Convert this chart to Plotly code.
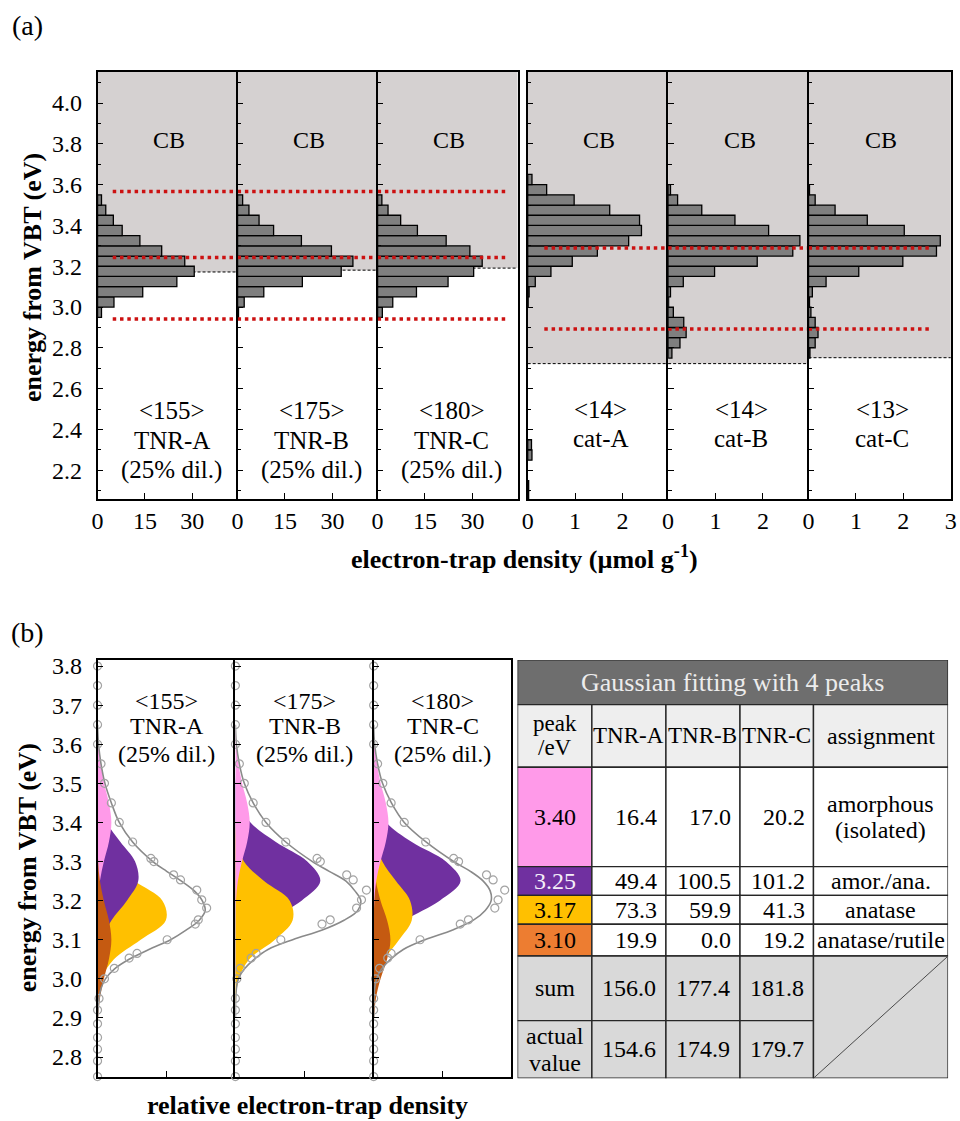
import plotly.graph_objects as go

FONT = "Liberation Serif, Times New Roman, serif"
W, H = 960, 1121

# ---------------- (a) electron-trap density distributions ----------------
# bin centres in eV (bins are 0.05 eV wide); densities in umol/g
tnr_bins = [2.975, 3.025, 3.075, 3.125, 3.175, 3.225, 3.275, 3.325, 3.375, 3.425, 3.475, 3.525]
tnr_a = [1.25, 5.2, 14.3, 25.1, 30.6, 27.6, 20.3, 13.4, 7.8, 5.0, 2.6, 1.25]
tnr_b = [0.3, 2.1, 8.3, 20.5, 32.8, 36.5, 29.7, 20.2, 11.4, 6.8, 3.6, 1.6]
tnr_c = [1.5, 4.8, 12.3, 22.3, 30.4, 33.1, 29.2, 21.7, 12.6, 7.3, 3.3, 1.35]

cat_bins = [2.775, 2.825, 2.875, 2.925, 2.975, 3.025, 3.075, 3.125, 3.175,
            3.225, 3.275, 3.325, 3.375, 3.425, 3.475, 3.525, 3.575, 3.625]
cat_a = [0, 0, 0, 0, 0, 0.01, 0.03, 0.16, 0.49, 0.94, 1.47, 2.13, 2.40, 2.36, 1.73, 0.98, 0.40, 0.09]
cat_b = [0.08, 0.25, 0.38, 0.33, 0.11, 0.01, 0.05, 0.32, 0.98, 1.88, 2.63, 2.78, 2.12, 1.41, 0.71, 0.20, 0.05, 0]
cat_c = [0.03, 0.14, 0.20, 0.14, 0.05, 0.02, 0.08, 0.37, 1.06, 1.99, 2.70, 2.78, 2.02, 1.24, 0.56, 0.14, 0.02, 0]
cat_a_low_bins = [2.075, 2.125, 2.275, 2.325]
cat_a_low = [0.02, 0.02, 0.09, 0.08]

sample_names = ["TNR-A", "TNR-B", "TNR-C", "cat-A", "cat-B", "cat-C"]
sample_totals = ["155", "175", "180", "14", "14", "13"]
dilution = "(25% dil.)"
cb_edges = [3.172, 3.181, 3.191, 2.723, 2.723, 2.752]   # lower limit of conduction-band shading (eV)
tnr_red_levels = [3.566, 3.243, 2.942]
cat_red_levels = [3.29, 2.893]

# ---------------- (b) Gaussian deconvolution ----------------
comp_E = [2.85, 2.90, 2.95, 3.00, 3.05, 3.10, 3.15, 3.20, 3.25, 3.30, 3.35, 3.40, 3.45, 3.50, 3.55, 3.60, 3.65]
fitA_340 = [0, 0, 0, 0, 0, 0, 0.1, 0.6, 2.4, 6.4, 11.5, 14, 11.5, 6.6, 3.0, 0.9, 0.2]
fitA_325 = [0, 0, 0, 0.2, 1.0, 4.5, 14.2, 29.7, 41.2, 38.0, 23.2, 9.4, 2.5, 0.5, 0.1, 0, 0]
fitA_317 = [0, 0, 0.5, 3.8, 16.6, 43.7, 69.2, 65.7, 37.5, 12.8, 2.6, 0.3, 0, 0, 0, 0, 0]
fitA_310 = [0.1, 0.6, 2.4, 6.4, 11.5, 14, 11.5, 6.4, 2.4, 0.6, 0.1, 0, 0, 0, 0, 0, 0]
fitB_340 = [0, 0, 0, 0, 0, 0, 0.1, 0.6, 2.5, 6.6, 11.9, 14.5, 11.9, 6.8, 3.1, 0.9, 0.2]
fitB_325 = [0, 0, 0, 0.4, 2.7, 12, 34.7, 67, 86, 72.8, 41, 15.3, 3.8, 0.6, 0.1, 0, 0]
fitB_317 = [0, 0, 0.5, 3.5, 14, 40, 58, 55, 29, 8.6, 1.5, 0.1, 0, 0, 0, 0, 0]
fitB_310 = [0, 0, 0, 0, 0, 0, 0, 0, 0, 0, 0, 0, 0, 0, 0, 0, 0]
fitC_340 = [0, 0, 0, 0, 0, 0, 0.1, 0.7, 2.6, 6.9, 12.3, 15, 12.3, 7.1, 3.2, 0.9, 0.2]
fitC_325 = [0, 0, 0, 0.2, 1.9, 9.9, 32.3, 66.9, 88, 73.2, 38.7, 13, 2.8, 0.4, 0, 0, 0]
fitC_317 = [0, 0, 0.5, 3.0, 11, 25.8, 38.6, 36.9, 22.6, 8.8, 2.2, 0.4, 0, 0, 0, 0, 0]
fitC_310 = [0, 0.5, 2.3, 7.0, 13.6, 17, 13.6, 7.0, 2.3, 0.5, 0, 0, 0, 0, 0, 0, 0]

sum_E = [3.65, 3.60, 3.55, 3.50, 3.45, 3.40, 3.35, 3.30, 3.275, 3.25, 3.225, 3.20,
         3.175, 3.15, 3.125, 3.10, 3.075, 3.05, 3.025, 3.00, 2.975, 2.95, 2.90]
sumA = [0, 1, 3.5, 7.5, 14, 22, 35.5, 56, 70, 85, 98, 106, 109, 103, 90, 74, 52, 32, 17, 8, 3.5, 1.5, 0]
sumB = [0, 1, 4, 9, 18, 31, 51, 78, 95, 112, 121, 127, 124, 110, 88, 58, 33, 19, 9, 3, 1, 0.3, 0]
sumC = [0, 1, 4, 9, 18, 31, 53, 81, 98, 111, 118, 119, 113, 101, 80, 52, 30, 17, 8, 3, 1, 0.3, 0]

obs_E = [3.80, 3.75, 3.70, 3.65, 3.60, 3.55, 3.50, 3.45, 3.40, 3.35, 3.308, 3.30, 3.266, 3.253,
         3.227, 3.202, 3.181, 3.151, 3.14, 3.10, 3.065, 3.053, 3.027, 3.00, 2.95, 2.92, 2.885,
         2.85, 2.82, 2.79, 2.75]
obsA = [0, 0, 0, 0, 0, 3.5, 7, 14, 22, 35.5, 54, 57, 77, 84, 100.5, 105.5, 110.5, 102, 99, 70.5,
        40, 32, 17, 7, 1.5, 0, 0, 0, 0, 0, 0]
obsB = [0, 0, 0, 0, 0, 4, 9, 18, 31, 51, 82.7, 86, 112.7, 119.3, 132.7, 127.7, 122.7, 96, 87.7, 46,
        21, 16, 5, 1.5, 0, 0, 0, 0, 0, 0, 0]
obsC = [0, 0, 0, 0, 0, 4, 9.3, 17.7, 31, 52.7, 81, 86, 114.3, 121, 132.7, 126, 122.7, 96, 87.7, 47,
        17.7, 14.3, 6, 2, 0, 0, 0, 0, 0, 0, 0]

# ---------------- fitting table ----------------
table_title = "Gaussian fitting with 4 peaks"
table_head = ["TNR-A", "TNR-B", "TNR-C", "assignment"]
peak_labels = ["3.40", "3.25", "3.17", "3.10"]
fit_tnr_a = [16.4, 49.4, 73.3, 19.9]
fit_tnr_b = [17.0, 100.5, 59.9, 0.0]
fit_tnr_c = [20.2, 101.2, 41.3, 19.2]
assignments = [["amorphous", "(isolated)"], ["amor./ana."], ["anatase"], ["anatase/rutile"]]
sum_values = [156.0, 177.4, 181.8]
actual_values = [154.6, 174.9, 179.7]

# ---------------- styling ----------------
PEAK_FILL = ["#ff9ae9", "#7030a0", "#ffc000", "#c55a11"]
PEAK_CELL = ["#ff9ae9", "#7030a0", "#ffc000", "#ed7d31"]
CB_GRAY = "#d5d1d1"
RED = "#cc1111"
TICK_SIZE = 24
LABEL_SIZE = 24

fig = go.Figure()
layout = {}
shapes = []
annotations = []


def names(n):
    return ("x" if n == 1 else f"x{n}"), ("y" if n == 1 else f"y{n}")


def lname(axid):
    return axid[0] + "axis" + axid[1:]


def fx(p):
    return p / W


def fy(p):
    return 1 - p / H


def base(mirror=True):
    return dict(showline=True, linecolor="black", linewidth=1.5, mirror=mirror, showgrid=False,
                zeroline=False, ticks="inside", tickcolor="black", tickwidth=1.2, ticklen=6,
                tickfont=dict(family=FONT, size=TICK_SIZE, color="black"), fixedrange=True)


# ---- panel (a) ----
A_TOP, A_BOT = 65, 495
A_EMIN, A_EMAX = 2.06, 4.154
a_cols = [(92.7, 234.5), (234.5, 376.3), (376.3, 518.0), (528.3, 670.5), (670.5, 812.7), (812.7, 956.7)]
a_xmax = [44.31, 44.31, 44.28, 2.9625, 2.9625, 3.001]
a_ticks = [[0, 15, 30]] * 3 + [[0, 1, 2]] * 2 + [[0, 1, 2, 3]]
a_last_in_group = [False, False, True, False, False, True]
a_hist = [(tnr_bins, tnr_a), (tnr_bins, tnr_b), (tnr_bins, tnr_c),
          (cat_a_low_bins + cat_bins, cat_a_low + cat_a), (cat_bins, cat_b), (cat_bins, cat_c)]
red_spans = [(4.8, 44.31), (0, 44.31), (0, 40.4), (0.35, 2.9625), (0, 2.9625), (0, 2.58)]

for i in range(6):
    xid, yid = names(i + 1)
    l, r = a_cols[i]
    layout[lname(xid)] = dict(domain=[fx(l), fx(r)], range=[0, a_xmax[i]], anchor=yid,
                              tickmode="array", tickvals=a_ticks[i],
                              ticktext=[str(t) for t in a_ticks[i]], ticklabelstandoff=0,
                              ticklabeloverflow="allow", **base())
    layout[lname(yid)] = dict(domain=[fy(A_BOT), fy(A_TOP)], range=[A_EMIN, A_EMAX], anchor=xid,
                              tickmode="linear", tick0=2.2, dtick=0.2, tickformat=".1f",
                              showticklabels=(i == 0), ticklabelstandoff=9,
                              minor=dict(ticks="inside", tick0=2.1, dtick=0.1, ticklen=4,
                                         tickcolor="black", tickwidth=1.2),
                              **base(a_last_in_group[i]))
    # conduction band shading and its lower edge
    shapes.append(dict(type="rect", xref=f"{xid} domain", yref=yid, x0=0, x1=1,
                       y0=cb_edges[i], y1=A_EMAX, fillcolor=CB_GRAY, line_width=0, layer="below"))
    shapes.append(dict(type="line", xref=f"{xid} domain", yref=yid, x0=0, x1=1,
                       y0=cb_edges[i], y1=cb_edges[i],
                       line=dict(color="black", width=1, dash="3px,2px"), layer="below"))
    bins, vals = a_hist[i]
    kept = [(b, v) for b, v in zip(bins, vals) if v > 0]
    fig.add_trace(go.Bar(x=[v for _, v in kept], y=[b for b, _ in kept], orientation="h",
                         width=0.05,
                         marker=dict(color="#7f7f7f", line=dict(color="black", width=1.3)),
                         xaxis=xid, yaxis=yid, hoverinfo="skip"))
    levels = tnr_red_levels if i < 3 else cat_red_levels
    x0, x1 = red_spans[i]
    for lv in levels:
        fig.add_trace(go.Scatter(x=[x0, x1], y=[lv, lv], mode="lines",
                                 line=dict(color=RED, width=3.5, dash="3.5px,3.8px"),
                                 xaxis=xid, yaxis=yid, hoverinfo="skip"))
    cx = 0.53 if i < 3 else 0.52
    annotations.append(dict(text="CB", xref=f"{xid} domain", yref=yid, x=0.51, y=3.82,
                            showarrow=False, font=dict(family=FONT, size=LABEL_SIZE, color="black")))
    if i < 3:
        lines = [f"&lt;{sample_totals[i]}&gt;", sample_names[i], dilution]
        ys = [2.492, 2.346, 2.20]
    else:
        lines = [f"&lt;{sample_totals[i]}&gt;", sample_names[i]]
        ys = [2.50, 2.355]
    for t, yv in zip(lines, ys):
        annotations.append(dict(text=t, xref=f"{xid} domain", yref=yid, x=cx, y=yv,
                                showarrow=False,
                                font=dict(family=FONT, size=LABEL_SIZE + 1, color="black")))

# ---- panel (b) ----
B_TOP, B_BOT = 657.3, 1076.7
B_EMIN, B_EMAX = 2.749, 3.815
b_cols = [(92.7, 232.3), (232.3, 372.3), (372.3, 511.7)]
b_fits = [[fitA_340, fitA_325, fitA_317, fitA_310],
          [fitB_340, fitB_325, fitB_317, fitB_310],
          [fitC_340, fitC_325, fitC_317, fitC_310]]
b_sums = [sumA, sumB, sumC]
b_obs = [obsA, obsB, obsC]

for j in range(3):
    xid, yid = names(7 + j)
    l, r = b_cols[j]
    layout[lname(xid)] = dict(domain=[fx(l), fx(r)], range=[0, r - l], anchor=yid,
                              tickmode="array", tickvals=[70], showticklabels=False, **base())
    layout[lname(yid)] = dict(domain=[fy(B_BOT), fy(B_TOP)], range=[B_EMIN, B_EMAX], anchor=xid,
                              tickmode="linear", tick0=2.8, dtick=0.1, tickformat=".1f",
                              showticklabels=(j == 0), ticklabelstandoff=9, **base(j == 2))
    comps = b_fits[j]
    # larger components behind, smaller ones in front
    order = sorted(range(4), key=lambda k: -max(comps[k]))
    for k in order:
        if max(comps[k]) <= 0:
            continue
        fig.add_trace(go.Scatter(x=comps[k], y=comp_E, mode="lines", fill="tozerox",
                                 fillcolor=PEAK_FILL[k], line=dict(width=0, shape="spline"),
                                 xaxis=xid, yaxis=yid, hoverinfo="skip"))
    fig.add_trace(go.Scatter(x=b_sums[j], y=sum_E, mode="lines",
                             line=dict(color="#8a8a8a", width=1.6, shape="spline"),
                             xaxis=xid, yaxis=yid, hoverinfo="skip"))
    fig.add_trace(go.Scatter(x=b_obs[j], y=obs_E, mode="markers", cliponaxis=False,
                             marker=dict(symbol="circle-open", size=8, color="#a3a3a3",
                                         line=dict(width=1.2)),
                             xaxis=xid, yaxis=yid, hoverinfo="skip"))
    for t, yv in zip([f"&lt;{sample_totals[j]}&gt;", sample_names[j], dilution],
                     [3.711, 3.647, 3.576]):
        annotations.append(dict(text=t, xref=xid, yref=yid, x=70, y=yv, showarrow=False,
                                font=dict(family=FONT, size=LABEL_SIZE, color="black")))

# ---- table ----
T_L, T_R, T_T, T_B = 518, 954, 657, 1078
col_w = [75.3, 75.0, 75.0, 74.4, 136.3]
row_h = [45, 63, 100, 29, 29, 32, 65, 58]
cx_e = [0]
for w_ in col_w:
    cx_e.append(cx_e[-1] + w_)
ry_e = [0]
for h_ in row_h:
    ry_e.append(ry_e[-1] + h_)
txid, tyid = names(10)
layout[lname(txid)] = dict(domain=[fx(T_L), fx(T_R)], range=[0, T_R - T_L], visible=False,
                           anchor=tyid, fixedrange=True)
layout[lname(tyid)] = dict(domain=[fy(T_B), fy(T_T)], range=[T_B - T_T, 0], visible=False,
                           anchor=txid, fixedrange=True)
BORDER = dict(color="#262626", width=1.4)


def cell(c0, c1, r0, r1, fill):
    shapes.append(dict(type="rect", xref=txid, yref=tyid, x0=cx_e[c0], x1=cx_e[c1],
                       y0=ry_e[r0], y1=ry_e[r1], fillcolor=fill, line=BORDER, layer="above"))


def text(t, x, y, size=24, color="black", xanchor="center"):
    annotations.append(dict(text=t, xref=txid, yref=tyid, x=x, y=y, showarrow=False,
                            xanchor=xanchor, yanchor="middle",
                            font=dict(family=FONT, size=size, color=color)))


def ccol(c):
    return (cx_e[c] + cx_e[c + 1]) / 2


def crow(r):
    return (ry_e[r] + ry_e[r + 1]) / 2


cell(0, 5, 0, 1, "#6e6e6e")
text(table_title, (cx_e[0] + cx_e[5]) / 2, crow(0), size=26, color="#ececec")
for c in range(5):
    cell(c, c + 1, 1, 2, "#eeeeee")
text("peak", ccol(0), crow(1) - 12, size=23)
text("/eV", ccol(0), crow(1) + 12, size=23)
for c, h in enumerate(table_head):
    text(h, ccol(c + 1), crow(1), size=(23 if c < 3 else 24))

fits = [fit_tnr_a, fit_tnr_b, fit_tnr_c]
for p in range(4):
    r = 2 + p
    cell(0, 1, r, r + 1, PEAK_CELL[p])
    text(peak_labels[p], ccol(0), crow(r), color="#f4eef8" if p == 1 else "black")
    for c in range(3):
        cell(c + 1, c + 2, r, r + 1, "white")
        text(f"{fits[c][p]:.1f}", cx_e[c + 2] - 7, crow(r), xanchor="right")
    cell(4, 5, r, r + 1, "white")
    lines = assignments[p]
    if len(lines) == 1:
        text(lines[0], ccol(4), crow(r))
    else:
        text(lines[0], ccol(4), crow(r) - 13)
        text(lines[1], ccol(4), crow(r) + 13)

for c in range(4):
    cell(c, c + 1, 6, 7, "#d9d9d9")
    cell(c, c + 1, 7, 8, "#d9d9d9")
cell(4, 5, 6, 8, "#d9d9d9")
shapes.append(dict(type="line", xref=txid, yref=tyid, x0=cx_e[4], y0=ry_e[8], x1=cx_e[5],
                   y1=ry_e[6], line=dict(color="#4a4a4a", width=1), layer="above"))
text("sum", ccol(0), crow(6))
text("actual", ccol(0), crow(7) - 14)
text("value", ccol(0), crow(7) + 14)
for c in range(3):
    text(f"{sum_values[c]:.1f}", ccol(c + 1), crow(6))
    text(f"{actual_values[c]:.1f}", ccol(c + 1), crow(7))


# ---- titles and panel letters ----
def paper_text(t, xp, yp, size, angle=0):
    annotations.append(dict(text=t, xref="paper", yref="paper", x=fx(xp), y=fy(yp),
                            showarrow=False, textangle=angle, xanchor="center", yanchor="middle",
                            font=dict(family=FONT, size=size, color="black")))


paper_text("(a)", 22, 19, 28)
paper_text("(b)", 22, 629, 28)
paper_text("<b>energy from VBT (eV)</b>", 27, 272, 26, angle=-90)
paper_text("<b>electron-trap density (µmol g<sup>-1</sup>)</b>", 525, 554, 26)
paper_text("<b>energy from VBT (eV)</b>", 22, 866, 26, angle=-90)
paper_text("<b>relative electron-trap density</b>", 305, 1105, 26)

fig.update_layout(width=W, height=H, margin=dict(l=0, r=0, t=0, b=0),
                  paper_bgcolor="white", plot_bgcolor="white", showlegend=False,
                  barmode="overlay", font=dict(family=FONT, color="black"),
                  shapes=shapes, annotations=annotations, **layout)
# the page body has no padding so the 960 px figure fills the window exactly
fig.write_html("out.html",
               post_script="document.body.style.margin='0';document.body.style.overflow='hidden';")
